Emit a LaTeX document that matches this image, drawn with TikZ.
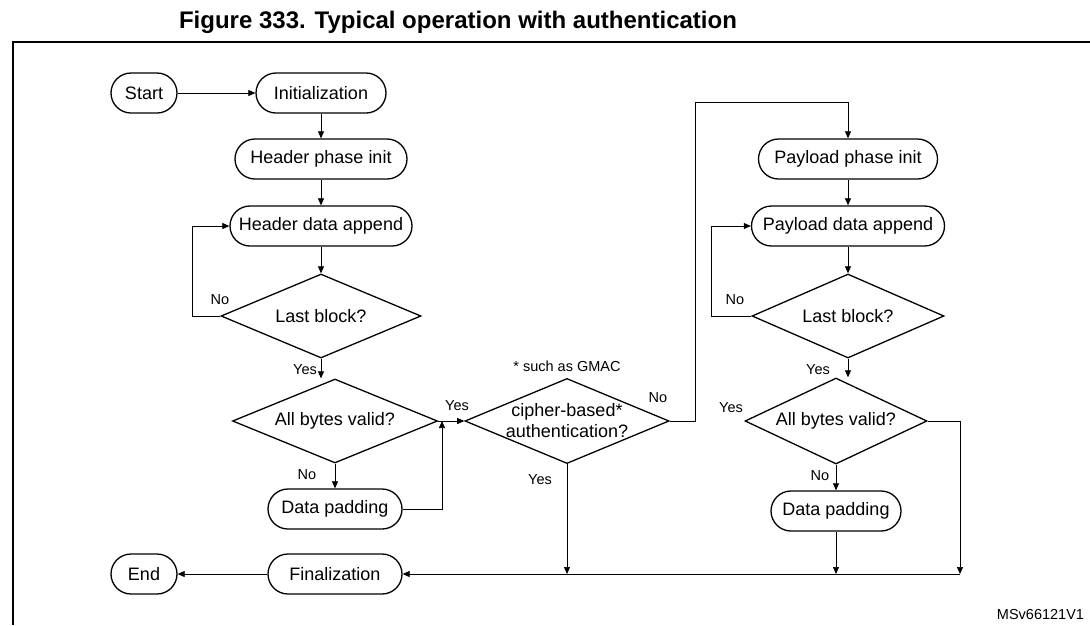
\documentclass[tikz,border=0pt]{standalone}
\usepackage{fontspec}
\setmainfont{Liberation Sans}
\usetikzlibrary{shapes.geometric,arrows.meta}
\begin{document}
\begin{tikzpicture}[x=1pt,y=-1pt,line width=1.3pt,
  pill/.style={draw,rounded corners=20pt,minimum height=40pt,inner sep=0pt,font=\fontsize{18}{21}\selectfont},
  dia/.style={draw,diamond,aspect=2.4,inner sep=0pt,font=\fontsize{18}{21}\selectfont,align=center},
  lbl/.style={font=\fontsize{14.5}{17}\selectfont},
  arr/.style={line width=0.7pt,-{Triangle[length=7pt,width=6pt]}},
  ln/.style={line width=0.7pt}]
\useasboundingbox (0,0) rectangle (1090,625);
\node[font=\bfseries\fontsize{24}{27}\selectfont] (title) at (458,22) {Figure 333. Typical operation with authentication};
\draw[line width=1.2pt] (1090,42) -- (13,42) -- (13,625);
\node[pill,minimum width=66pt] (start) at (144,93) {Start};
\node[pill,minimum width=130pt] (init) at (321,93) {Initialization};
\node[pill,minimum width=172pt] (hpi) at (321,159) {Header phase init};
\node[pill,minimum width=182pt] (hda) at (321,226) {Header data append};
\node[dia,minimum width=200pt,minimum height=84pt] (lb1) at (321,316) {Last block?};
\node[dia,minimum width=205pt,minimum height=84pt] (abv1) at (335,421) {All bytes valid?};
\node[pill,minimum width=134pt] (dp1) at (335,509) {Data padding};
\node[pill,minimum width=134pt] (fin) at (335,574) {Finalization};
\node[pill,minimum width=66pt] (end) at (144,574) {End};
\node[dia,minimum width=185pt,minimum height=85pt] (cb) at (567,421) {cipher-based*\\authentication?};
\node[lbl] (gmac) at (567,366) {* such as GMAC};
\node[pill,minimum width=179pt] (ppi) at (848,159) {Payload phase init};
\node[pill,minimum width=193pt] (pda) at (848,226) {Payload data append};
\node[dia,minimum width=192pt,minimum height=84pt] (lb2) at (848,316) {Last block?};
\node[dia,minimum width=182pt,minimum height=86pt] (abv2) at (836,421) {All bytes valid?};
\node[pill,minimum width=130pt] (dp2) at (836,511) {Data padding};
\node[lbl,anchor=south east] (ms) at (1088,624) {MSv66121V1};
\coordinate (j1) at (442,421);
\coordinate (b1) at (567,574);
\coordinate (b2) at (836,574);
\coordinate (b3) at (960,574);
% left column
\draw[arr] (start) -- (init);
\draw[arr] (init) -- (hpi);
\draw[arr] (hpi) -- (hda);
\draw[arr] (hda) -- (lb1);
\draw[arr] (lb1.west) -- ++(-28,0) |- (hda.west);
\node[lbl] at (220,300) {No};
\draw[arr] (lb1.south) -- (lb1.south |- abv1.north);
\node[lbl] at (305,370) {Yes};
\draw[arr] (abv1) -- (dp1);
\node[lbl] at (307,475) {No};
\draw[arr] (dp1.east) -| (j1);
\draw[arr] (abv1.east) -- (cb.west);
\node[lbl] at (457,406) {Yes};
% cipher
\draw[arr] (cb.east) -- ++(26,0) |- (848,102) -- (ppi.north);
\node[lbl] at (658,398) {No};
\draw[arr] (cb.south) -- (b1);
\node[lbl] at (540,480) {Yes};
% right column
\draw[arr] (ppi) -- (pda);
\draw[arr] (pda.south) -- (pda.south |- lb2.north);
\draw[arr] (lb2.west) -- ++(-40,0) |- (pda.west);
\node[lbl] at (735,300) {No};
\draw[arr] (lb2.south) -- (lb2.south |- abv2.north);
\node[lbl] at (818,370) {Yes};
\draw[arr] (abv2) -- (dp2);
\node[lbl] at (820,476) {No};
\node[lbl] at (731,408) {Yes};
\draw[arr] (dp2) -- (b2);
\draw[arr] (abv2.east) -| (b3);
\draw[ln] (b3) -- (b2) -- (b1);
\draw[arr] (b1) -- (fin.east);
\draw[arr] (fin) -- (end);
\end{tikzpicture}
\end{document}
